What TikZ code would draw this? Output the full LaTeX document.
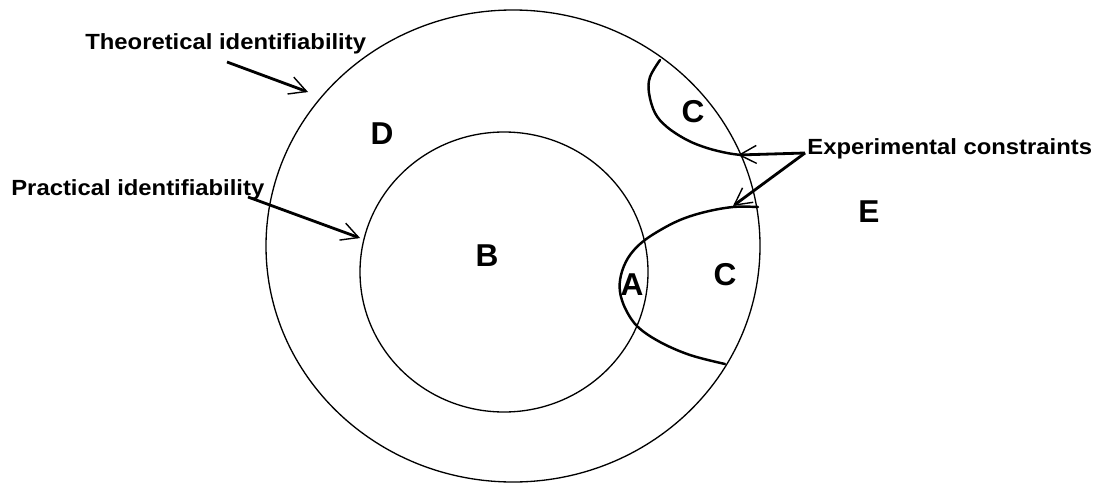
\documentclass[tikz,border=0pt]{standalone}
\usepackage{fontspec}
\usepackage{tikz}
\usetikzlibrary{arrows.meta, positioning, calc}
\newfontfamily\lblfont[FakeStretch=1.085]{Liberation Sans}
\newfontfamily\zonefont{Liberation Sans}
\tikzset{
	ring/.style   ={line width=0.75pt},
	cbound/.style ={line width=1.4pt, line cap=round},
	ptr/.style    ={line width=1.6pt, -{Straight Barb[length=3.4mm, width=3.6mm, line width=0.8pt]}},
	lbl/.style    ={font=\lblfont\bfseries\fontsize{12.5}{14}\selectfont, inner sep=0pt},
	zone/.style   ={font=\zonefont\bfseries\fontsize{18}{20}\selectfont, inner sep=0pt},
}

\begin{document}
\begin{tikzpicture}[x=0.02cm, y=-0.02cm]
	\useasboundingbox (0,0) rectangle (1097,483);
	% identifiability regions
	\draw[ring] (513,246) ellipse [x radius=247, y radius=236];
	\draw[ring] (504,272) ellipse [x radius=144, y radius=140];
	% experimental constraint borders
	\draw[cbound] plot[smooth, tension=0.6] coordinates {(660,60) (650,77) (649,93) (655,113) (667,127) (687,140) (707,148) (727,153) (741,155)};
	\draw[cbound] plot[smooth, tension=0.6] coordinates {(758,207) (733,207) (705,212) (680,220) (657,232) (640,244) (628,258) (621,275) (620,292) (626,310) (638,327) (660,342) (690,355) (725,364)};
	% region letters
	\node[zone] (D)  at (382,134) {D};
	\node[zone] (B)  at (487,256) {B};
	\node[zone] (A)  at (632,285) {A};
	\node[zone] (C1) at (693,112) {C};
	\node[zone] (C2) at (725,275) {C};
	\node[zone] (E)  at (869,212) {E};
	% labels
	\node[lbl, anchor=base west] (theo) at (85,50)   {Theoretical identifiability};
	\node[lbl, anchor=base west] (prac) at (11,195)  {Practical identifiability};
	\node[lbl, anchor=base west] (expc) at (807,154) {Experimental constraints};
	\coordinate (tipT)  at (308,92);
	\coordinate (tipP)  at (360,238);
	\coordinate (tipC1) at (738,155);
	\coordinate (tipC2) at (733,206);
	\draw[ptr] ([shift={(142,12)}]theo.base west) -- (tipT);
	\draw[ptr] ([shift={(237,2)}]prac.base west) -- (tipP);
	\draw[ptr] ([shift={(-2,-1)}]expc.base west) -- (tipC1);
	\draw[ptr] ([shift={(-2,-1)}]expc.base west) -- (tipC2);
\end{tikzpicture}
\end{document}
